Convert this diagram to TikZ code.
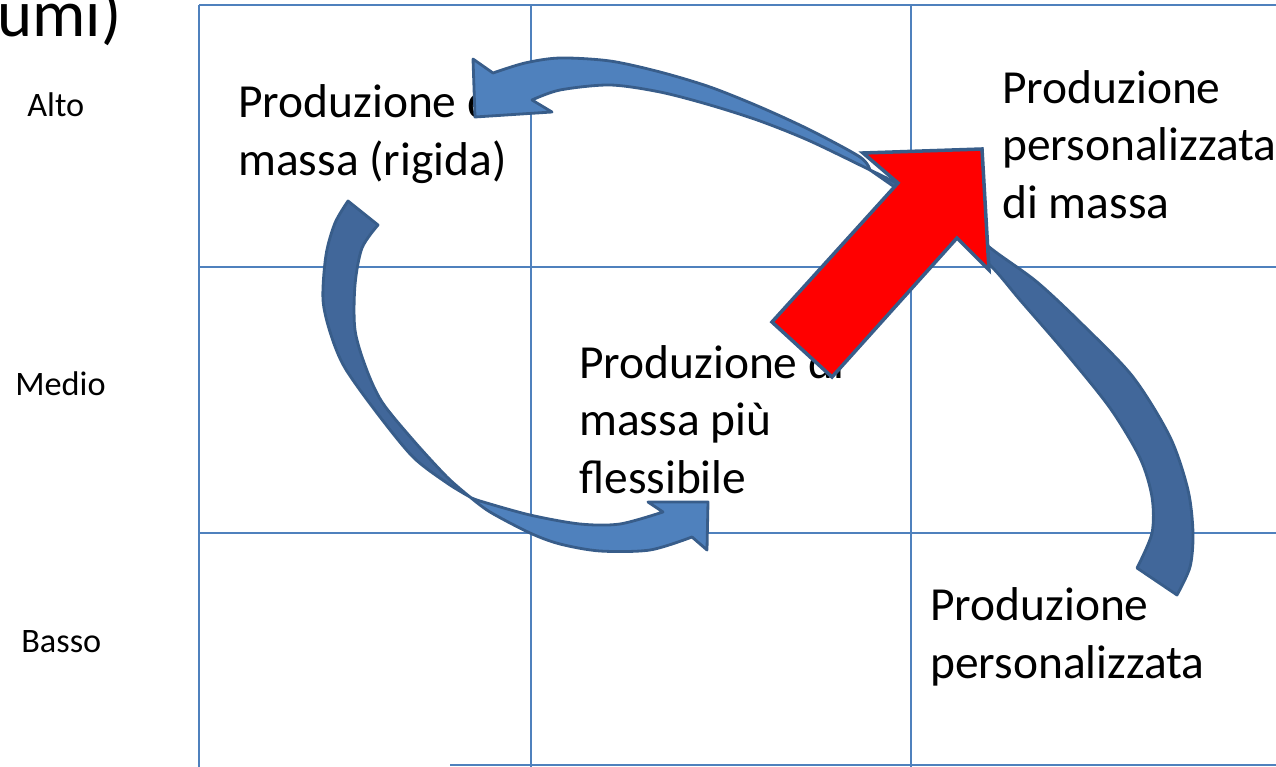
\documentclass[tikz,border=0pt]{standalone}
\usepackage{fontspec}
\setmainfont{Carlito}
\usepackage{tikz}
\definecolor{gridblue}{HTML}{4F81BD}
\definecolor{backblue}{HTML}{41679A}
\definecolor{frontblue}{HTML}{4F81BD}
\definecolor{edgeblue}{HTML}{385D8A}
\tikzstyle{gridline} = [draw=gridblue, line width=1pt]
\tikzstyle{prodtext} = [anchor=base west, inner sep=0pt, align=left, font=\fontsize{27}{32.6}\selectfont]
\tikzstyle{rowtext} = [anchor=base west, inner sep=0pt, font=\fontsize{19.5}{23}\selectfont]
\tikzstyle{backband} = [fill=backblue, draw=edgeblue, line width=1.6pt, line join=round]
\tikzstyle{frontband} = [fill=frontblue, draw=edgeblue, line width=1.6pt, line join=round]
\tikzstyle{bigarrow} = [fill=red, draw=edgeblue, line width=2pt, line join=miter]

\begin{document}
\begin{tikzpicture}[x=0.02cm, y=-0.02cm]
\useasboundingbox (0,0) rectangle (1276,767);
\draw[gridline] (199,5) -- (1276,5);
\draw[gridline] (199,267) -- (1276,267);
\draw[gridline] (199,533) -- (1276,533);
\draw[gridline] (450,765) -- (1276,765);
\draw[gridline] (199,5) -- (199,767);
\draw[gridline] (531,5) -- (531,767);
\draw[gridline] (911,5) -- (911,767);

\node[anchor=base west, inner sep=0pt, font=\fontsize{38}{42}\selectfont] (title) at (-3,37) {umi)};
\node[rowtext] (alto) at (27,117) {Alto};
\node[rowtext] (medio) at (15,395) {Medio};
\node[rowtext] (basso) at (21,652) {Basso};

\node[prodtext] (rigida) at (238,175) {Produzione di\\massa (rigida)};
\node[prodtext] (flessibile) at (579,493) {Produzione di\\massa più\\flessibile};
\node[prodtext] (persmassa) at (1002,218) {Produzione\\personalizzata\\di massa};
\node[prodtext] (pers) at (930,678) {Produzione\\personalizzata};

\filldraw[backband] plot[smooth] coordinates {(348,201) (335,223) (326,255) (323,300) (331,335) (345,368) (377,413) (413,457) (447,483) (470,497)}
  -- plot[smooth] coordinates {(470,497) (447,477) (413,440) (382,402) (366,368) (355,330) (355,285) (362,248) (378,225)} -- cycle;
\filldraw[frontband] plot[smooth] coordinates {(470,497) (480,501) (530,515) (580,524) (620,524) (663,512)}
  -- (648,502) -- (708,502) -- (707,550) -- (692,537)
  -- plot[smooth] coordinates {(692,537) (650,550) (600,551) (560,544) (530,533) (490,512) (470,497)} -- cycle;

\filldraw[backband] plot[smooth] coordinates {(1177,595) (1190,567) (1193,533) (1188,490) (1170,437) (1133,377) (1083,325) (1037,282) (993,250) (950,215) (900,185) (870,170)}
  -- plot[smooth] coordinates {(870,170) (940,220) (990,265) (1020,300) (1065,352) (1110,408) (1140,458) (1152,497) (1152,533) (1137,568)} -- cycle;
\filldraw[frontband] plot[smooth] coordinates {(870,170) (860,157) (810,130) (760,107) (710,87) (660,72) (610,61) (560,58) (525,63) (493,73)}
  -- (473,59) -- (475,117) -- (552,112) -- (532,100)
  -- plot[smooth] coordinates {(532,100) (560,90) (610,85) (660,92) (710,105) (760,121) (810,141) (870,170)} -- cycle;

\filldraw[bigarrow] (772,322) -- (898,183) -- (863,153) -- (982,149) -- (989,270) -- (957,238) -- (832,377) -- cycle;
\end{tikzpicture}
\end{document}
